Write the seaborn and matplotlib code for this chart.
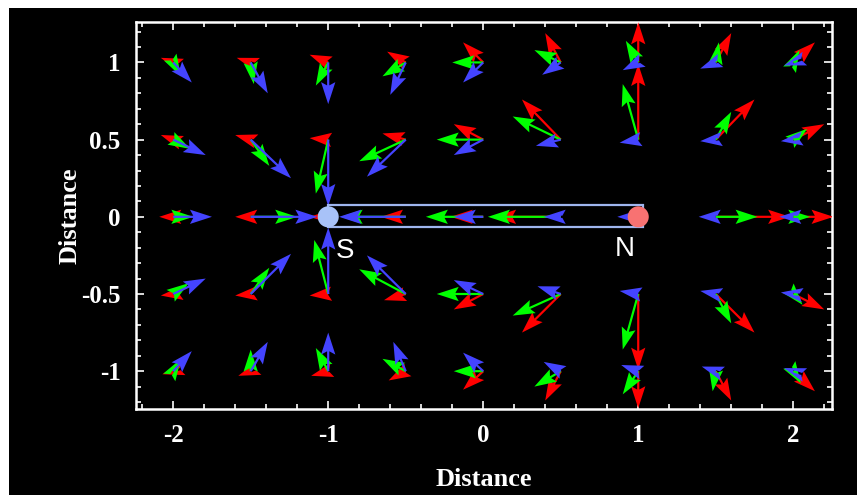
import numpy as np
import pandas as pd
import matplotlib
matplotlib.use("Agg")
import matplotlib.pyplot as plt
import seaborn as sns
from matplotlib.patches import Rectangle
from matplotlib.ticker import MultipleLocator

# grid of sample points (rows go from top to bottom)
xs = [-2, -1.5, -1, -0.5, 0, 0.5, 1, 1.5, 2]
ys = [1, 0.5, 0, -0.5, -1]
nan = np.nan

# red arrows: field of the N pole
red_u = [[-0.08, -0.09, -0.12, -0.12, -0.13, -0.10, 0.00, 0.10, 0.14],
         [-0.08, -0.10, -0.12, -0.15, -0.19, -0.25, 0.00, 0.25, 0.20],
         [-0.09, -0.10, -0.12, -0.16, -0.21, -0.43, nan, 0.48, 0.26],
         [-0.08, -0.10, -0.12, -0.14, -0.19, -0.25, 0.00, 0.25, 0.20],
         [-0.07, -0.08, -0.11, -0.11, -0.13, -0.10, 0.00, 0.10, 0.14]]
red_v = [[0.03, 0.03, 0.05, 0.07, 0.13, 0.19, 0.26, 0.19, 0.13],
         [0.03, 0.03, 0.01, 0.04, 0.10, 0.26, 0.49, 0.26, 0.10],
         [0.00, 0.00, 0.00, 0.00, 0.00, 0.00, nan, 0.00, 0.00],
         [-0.01, -0.01, -0.01, -0.04, -0.10, -0.25, -0.49, -0.25, -0.10],
         [-0.02, -0.03, -0.03, -0.06, -0.12, -0.19, -0.24, -0.19, -0.13]]

# green arrows: total field
green_u = [[0.05, 0.02, -0.08, -0.15, -0.20, -0.17, -0.08, 0.02, 0.04],
           [0.11, 0.12, -0.08, -0.30, -0.30, -0.31, -0.10, 0.10, 0.09],
           [0.13, 0.30, nan, -0.42, -0.37, -0.47, nan, 0.27, 0.11],
           [0.10, 0.12, -0.09, -0.30, -0.30, -0.31, -0.10, 0.10, 0.06],
           [0.05, 0.00, -0.08, -0.15, -0.19, -0.17, -0.10, -0.02, 0.05]]
green_v = [[-0.09, -0.14, -0.15, -0.09, 0.00, 0.08, 0.14, 0.13, 0.08],
           [-0.06, -0.17, -0.35, -0.14, 0.00, 0.15, 0.36, 0.18, 0.07],
           [0.00, 0.00, nan, 0.00, 0.00, 0.00, nan, 0.00, 0.00],
           [0.07, 0.17, 0.35, 0.16, 0.00, -0.14, -0.36, -0.19, -0.07],
           [0.08, 0.14, 0.15, 0.08, 0.00, -0.10, -0.15, -0.13, -0.08]]

# blue arrows: field of the S pole
blue_u = [[0.12, 0.11, 0.00, -0.10, -0.13, -0.12, -0.10, -0.10, -0.06],
          [0.21, 0.26, 0.00, -0.25, -0.19, -0.16, -0.12, -0.10, -0.08],
          [0.25, 0.43, nan, -0.43, -0.19, -0.11, -0.135, -0.11, -0.09],
          [0.21, 0.26, 0.00, -0.25, -0.19, -0.15, -0.12, -0.10, -0.08],
          [0.12, 0.11, 0.00, -0.08, -0.13, -0.11, -0.11, -0.09, -0.06]]
blue_v = [[-0.13, -0.20, -0.27, -0.21, -0.13, -0.08, -0.05, -0.04, -0.02],
          [-0.10, -0.25, -0.43, -0.24, -0.10, -0.04, -0.02, -0.01, -0.01],
          [0.00, 0.00, nan, 0.00, 0.00, 0.00, 0.00, 0.00, 0.00],
          [0.10, 0.26, 0.43, 0.25, 0.09, 0.05, 0.02, 0.02, 0.01],
          [0.13, 0.19, 0.25, 0.19, 0.12, 0.06, 0.04, 0.03, 0.02]]

pole_x = [-1, 1]
pole_y = [0, 0]
pole_names = ["S", "N"]

xticks = [-2, -1, 0, 1, 2]
xtick_labels = ["-2", "-1", "0", "1", "2"]
yticks = [-1, -0.5, 0, 0.5, 1]
ytick_labels = ["-1", "-0.5", "0", "0.5", "1"]

# long table of arrows
gx, gy = np.meshgrid(xs, ys)
parts = []
for name, u, v in [("red", red_u, red_v), ("green", green_u, green_v), ("blue", blue_u, blue_v)]:
    parts.append(pd.DataFrame({"x": gx.ravel(), "y": gy.ravel(),
                               "u": np.ravel(u), "v": np.ravel(v), "field": name}))
df = pd.concat(parts).dropna()

sns.set_theme(style="dark")
plt.rcParams["font.family"] = ["Liberation Serif", "DejaVu Serif"]

fig = plt.figure(figsize=(8.57, 4.95), dpi=100)
fig.patch.set_facecolor("white")
fig.patches.append(Rectangle((9 / 857, 0), 1, 1 - 8 / 495, transform=fig.transFigure,
                             facecolor="black", edgecolor="none", zorder=-5))
ax = fig.add_axes([136 / 857, 1 - 409 / 495, (832 - 136) / 857, (409 - 22) / 495])
ax.set_zorder(2)
ax.set_facecolor("black")

colors = {"red": "#ff0000", "green": "#00ff00", "blue": "#4444ff"}
for i, name in enumerate(["red", "green", "blue"]):
    d = df[df["field"] == name]
    ax.quiver(d["x"], d["y"], d["u"], d["v"], color=colors[name],
              angles="xy", scale_units="xy", scale=1, units="dots",
              width=2.2, headwidth=6.5, headlength=10, headaxislength=8.5,
              minshaft=0, zorder=3 + i)

# the bar magnet outline
ax.add_patch(Rectangle((-1, -0.067), 2.03, 0.145, facecolor="none",
                       edgecolor="#9fb6ee", lw=1.6, zorder=7))
ax.scatter(pole_x, pole_y, s=230, c=["#a8c2f8", "#f87272"], edgecolors="none", zorder=8)
ax.text(pole_x[0] + 0.11, pole_y[0] - 0.22, pole_names[0], color="white", fontsize=20,
        family="Liberation Sans", ha="center", va="center", zorder=9)
ax.text(pole_x[1] - 0.09, pole_y[1] - 0.21, pole_names[1], color="white", fontsize=20,
        family="Liberation Sans", ha="center", va="center", zorder=9)

ax.set_xlim(-2.24, 2.25)
ax.set_ylim(-1.245, 1.262)
ax.set_xticks(xticks)
ax.set_xticklabels(xtick_labels)
ax.set_yticks(yticks)
ax.set_yticklabels(ytick_labels)
ax.xaxis.set_minor_locator(MultipleLocator(0.2))
ax.yaxis.set_minor_locator(MultipleLocator(0.1))
ax.tick_params(which="both", direction="in", colors="white", top=True, right=True,
               bottom=True, left=True, width=1.2)
ax.tick_params(which="major", length=6, labelsize=18, labelcolor="white")
ax.tick_params(which="minor", length=3.5)
ax.tick_params(axis="x", which="major", pad=11)
ax.tick_params(axis="y", which="major", pad=11)
for lab in ax.get_xticklabels() + ax.get_yticklabels():
    lab.set_fontweight("bold")
for sp in ax.spines.values():
    sp.set_color("white")
    sp.set_linewidth(1.8)
ax.grid(False)

ax.set_xlabel("Distance", color="white", fontsize=19, fontweight="bold", labelpad=15)
ax.set_ylabel("Distance", color="white", fontsize=19, fontweight="bold", labelpad=0)

fig.savefig("out.png", dpi=100, facecolor=fig.get_facecolor())
